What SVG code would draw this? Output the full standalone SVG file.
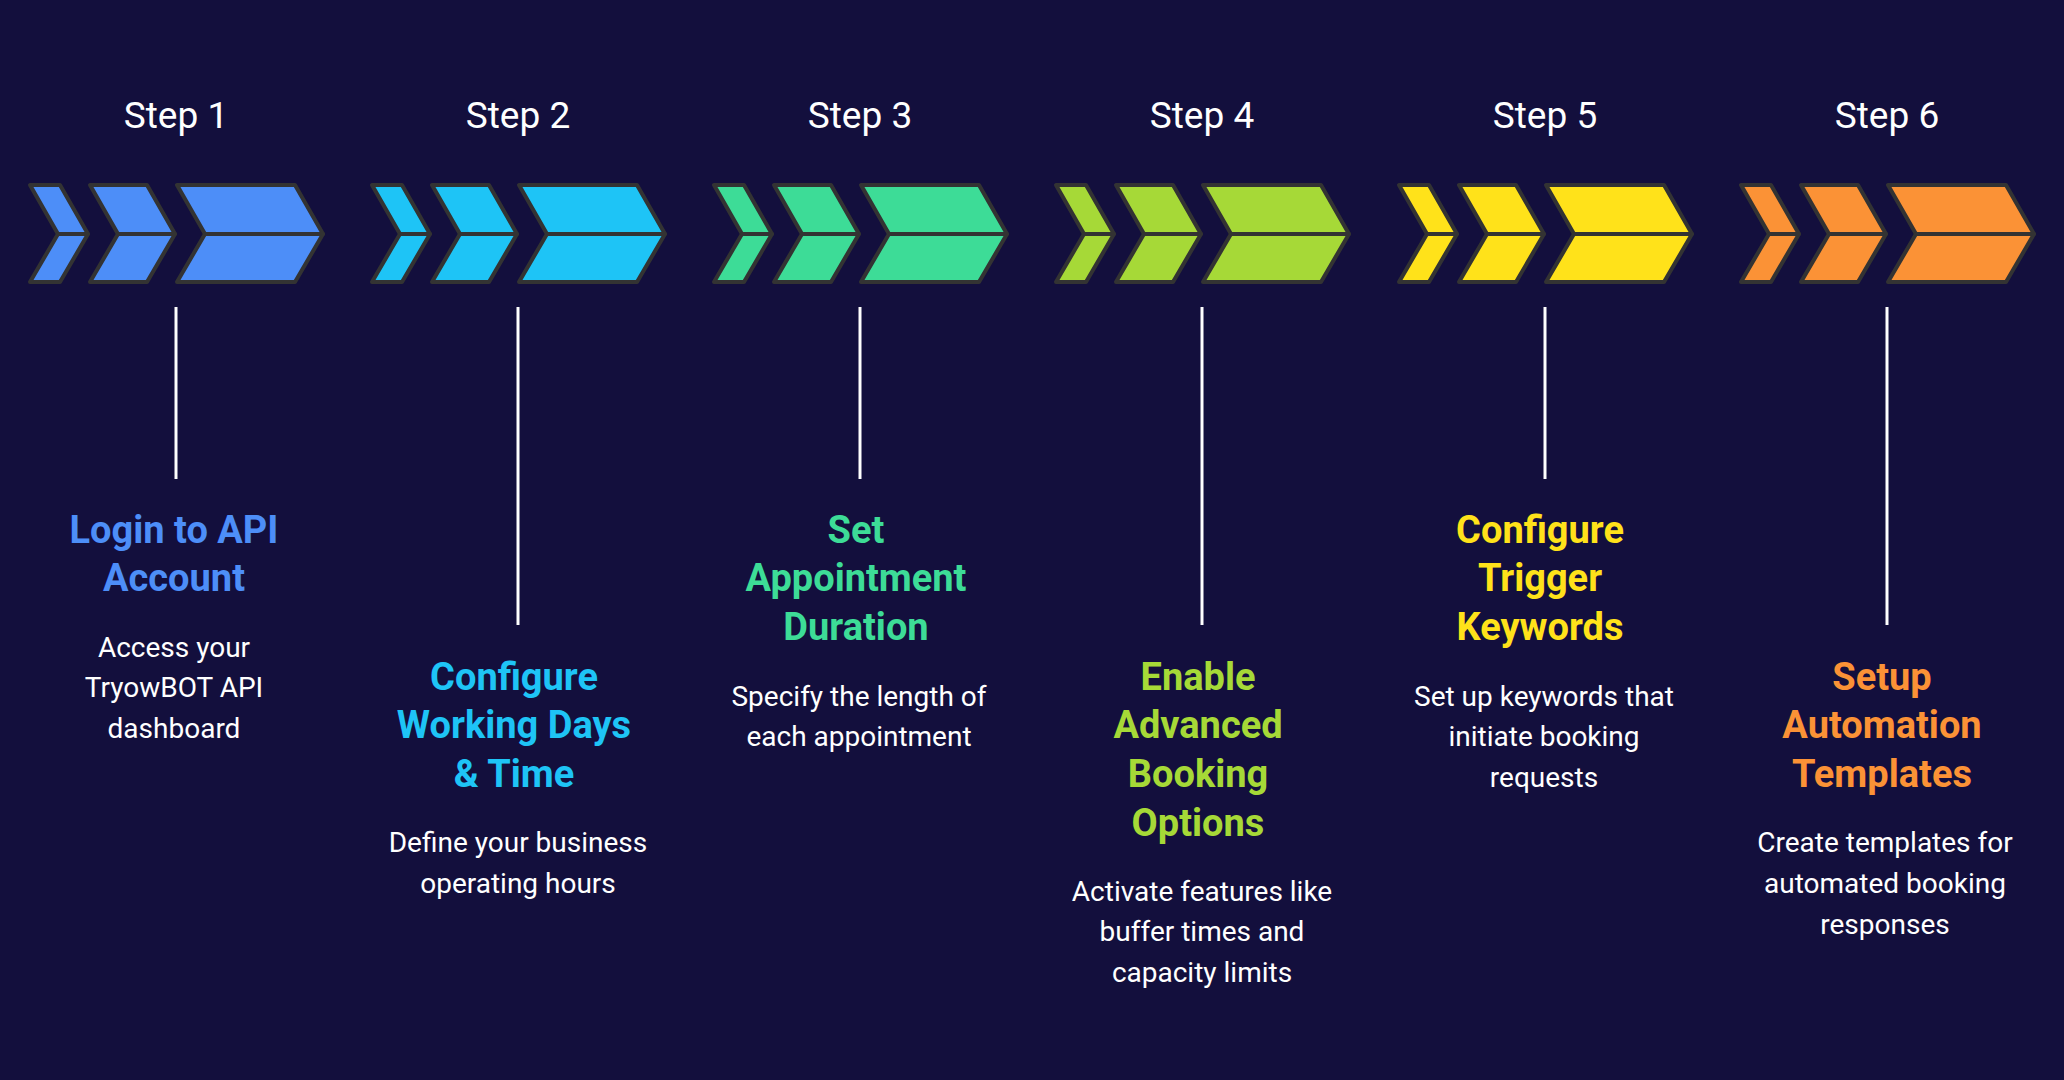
<svg xmlns="http://www.w3.org/2000/svg" xmlns:xlink="http://www.w3.org/1999/xlink" width="2064" height="1080" viewBox="0 0 2064 1080">
<style>
.step{font-family:Roboto,"Liberation Sans",sans-serif;font-size:37px;fill:#ffffff;text-anchor:middle}
.title{font-family:Roboto,"Liberation Sans",sans-serif;font-size:38px;font-weight:bold;text-anchor:middle}
.desc{font-family:Roboto,"Liberation Sans",sans-serif;font-size:28px;fill:#ffffff;text-anchor:middle}
.conn{stroke:#ffffff;stroke-width:3}
.chev path{stroke:#333333;stroke-width:4;stroke-linejoin:round}
</style>
<defs>
<g id="chev" class="chev">
<path d="M-146,185 L-116,185 L-88,234 L-118,234 Z"/><path d="M-118,234 L-88,234 L-116,282 L-146,282 Z"/>
<path d="M-86,185 L-29,185 L-1,234 L-58,234 Z"/><path d="M-58,234 L-1,234 L-29,282 L-86,282 Z"/>
<path d="M1,185 L119,185 L147,234 L29,234 Z"/><path d="M29,234 L147,234 L119,282 L1,282 Z"/>
</g>
</defs>
<rect width="2064" height="1080" fill="#130f3d"/>
<g id="connectors">
<line class="conn" x1="176" y1="307" x2="176" y2="479"/>
<line class="conn" x1="518" y1="307" x2="518" y2="625"/>
<line class="conn" x1="860" y1="307" x2="860" y2="479"/>
<line class="conn" x1="1202" y1="307" x2="1202" y2="625"/>
<line class="conn" x1="1545" y1="307" x2="1545" y2="479"/>
<line class="conn" x1="1887" y1="307" x2="1887" y2="625"/>
</g>
<g id="step1">
<text class="step" x="176" y="128">Step 1</text>
<use xlink:href="#chev" transform="translate(176,0)" fill="#4d8ef8"/>
<text class="title" fill="#4d8ef8" x="174"><tspan x="174" y="543">Login to API</tspan><tspan x="174" y="591">Account</tspan></text>
<text class="desc"><tspan x="174" y="657">Access your</tspan><tspan x="174" y="697">TryowBOT API</tspan><tspan x="174" y="738">dashboard</tspan></text>
</g>
<g id="step2">
<text class="step" x="518" y="128">Step 2</text>
<use xlink:href="#chev" transform="translate(518,0)" fill="#1ec4f6"/>
<text class="title" fill="#1ec4f6"><tspan x="514" y="690">Configure</tspan><tspan x="514" y="738">Working Days</tspan><tspan x="514" y="787">&amp; Time</tspan></text>
<text class="desc"><tspan x="518" y="852">Define your business</tspan><tspan x="518" y="893">operating hours</tspan></text>
</g>
<g id="step3">
<text class="step" x="860" y="128">Step 3</text>
<use xlink:href="#chev" transform="translate(860,0)" fill="#3ddc97"/>
<text class="title" fill="#3ddc97"><tspan x="856" y="543">Set</tspan><tspan x="856" y="591">Appointment</tspan><tspan x="856" y="640">Duration</tspan></text>
<text class="desc"><tspan x="859" y="706">Specify the length of</tspan><tspan x="859" y="746">each appointment</tspan></text>
</g>
<g id="step4">
<text class="step" x="1202" y="128">Step 4</text>
<use xlink:href="#chev" transform="translate(1202,0)" fill="#a6d937"/>
<text class="title" fill="#a6d937"><tspan x="1198" y="690">Enable</tspan><tspan x="1198" y="738">Advanced</tspan><tspan x="1198" y="787">Booking</tspan><tspan x="1198" y="836">Options</tspan></text>
<text class="desc"><tspan x="1202" y="901">Activate features like</tspan><tspan x="1202" y="941">buffer times and</tspan><tspan x="1202" y="982">capacity limits</tspan></text>
</g>
<g id="step5">
<text class="step" x="1545" y="128">Step 5</text>
<use xlink:href="#chev" transform="translate(1545,0)" fill="#ffe21a"/>
<text class="title" fill="#ffe21a"><tspan x="1540" y="543">Configure</tspan><tspan x="1540" y="591">Trigger</tspan><tspan x="1540" y="640">Keywords</tspan></text>
<text class="desc"><tspan x="1544" y="706">Set up keywords that</tspan><tspan x="1544" y="746">initiate booking</tspan><tspan x="1544" y="787">requests</tspan></text>
</g>
<g id="step6">
<text class="step" x="1887" y="128">Step 6</text>
<use xlink:href="#chev" transform="translate(1887,0)" fill="#fb9236"/>
<text class="title" fill="#fb9236"><tspan x="1882" y="690">Setup</tspan><tspan x="1882" y="738">Automation</tspan><tspan x="1882" y="787">Templates</tspan></text>
<text class="desc"><tspan x="1885" y="852">Create templates for</tspan><tspan x="1885" y="893">automated booking</tspan><tspan x="1885" y="934">responses</tspan></text>
</g>
</svg>
